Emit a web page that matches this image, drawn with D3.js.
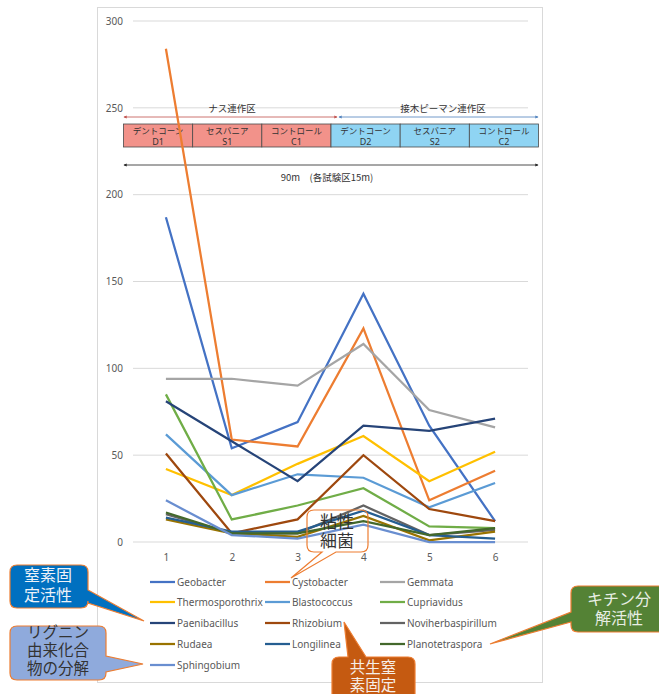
<!DOCTYPE html>
<html><head><meta charset="utf-8">
<script src="https://cdn.jsdelivr.net/npm/d3@7"></script>
<style>
body{margin:0;background:#fff;}
svg{display:block;}
</style></head>
<body>
<svg id="c" width="659" height="694"></svg>
<script>
const xCats = [1,2,3,4,5,6];
const yTicks = [0,50,100,150,200,250,300];
const seriesNames = ["Geobacter","Cystobacter","Gemmata","Thermosporothrix","Blastococcus","Cupriavidus","Paenibacillus","Rhizobium","Noviherbaspirillum","Rudaea","Longilinea","Planotetraspora","Sphingobium"];
const seriesColors = ["#4472C4","#ED7D31","#A5A5A5","#FFC000","#5B9BD5","#70AD47","#264478","#9E480E","#636363","#997300","#255E91","#43682B","#698ED0"];
const geobacter = [187,54,69,143,67,12];
const cystobacter = [284,59,55,123,24,41];
const gemmata = [94,94,90,114,76,66];
const thermosporothrix = [42,27,45,61,35,52];
const blastococcus = [62,27,39,37,20,34];
const cupriavidus = [85,13,21,31,9,8];
const paenibacillus = [81,58,35,67,64,71];
const rhizobium = [51,5,13,50,19,12];
const noviherbaspirillum = [16,5,5,21,4,7];
const rudaea = [13,5,3,15,1,6];
const longilinea = [14,6,6,18,4,2];
const planotetraspora = [17,5,5,12,4,8];
const sphingobium = [24,4,2,10,0,0];
const seriesValues = [geobacter,cystobacter,gemmata,thermosporothrix,blastococcus,cupriavidus,paenibacillus,rhizobium,noviherbaspirillum,rudaea,longilinea,planotetraspora,sphingobium];

const plotLabels = ["デントコーン","セスバニア","コントロール","デントコーン","セスバニア","コントロール"];
const plotCodes = ["D1","S1","C1","D2","S2","C2"];
const zoneLabels = ["ナス連作区","接木ピーマン連作区"];
const lengthLabel = "90m　(各試験区15m)";

const svg = d3.select("#c");
const JP = "'Noto Sans CJK JP','Noto Sans',sans-serif";
const LAT = "'Noto Sans','Liberation Sans',sans-serif";

// chart frame
svg.append("rect").attr("x",97.5).attr("y",7.5).attr("width",445).attr("height",675)
  .attr("fill","#fff").attr("stroke","#D9D9D9").attr("stroke-width",1);

const x = d3.scalePoint().domain(xCats).range([133,528]).padding(0.5);
const y = d3.scaleLinear().domain([0,300]).range([542,21]);

// grid
svg.append("g").selectAll("line").data(yTicks).join("line")
  .attr("x1",133).attr("x2",528).attr("y1",d=>y(d)).attr("y2",d=>y(d))
  .attr("stroke","#D9D9D9").attr("stroke-width",1);

// y axis
const ya = svg.append("g").attr("transform","translate(127,0)")
  .call(d3.axisLeft(y).tickValues(yTicks).tickSize(0).tickPadding(4));
ya.select(".domain").remove();
ya.selectAll("text").attr("fill","#595959").style("font-family",LAT).style("font-size","10px");

// x axis
const xa = svg.append("g").attr("transform","translate(0,552)")
  .call(d3.axisBottom(x).tickSize(0).tickPadding(2));
xa.select(".domain").remove();
xa.selectAll("text").attr("fill","#595959").style("font-family",LAT).style("font-size","10px");

// inset diagram
const bx = d3.scaleBand().domain(d3.range(6)).range([123.5,538.5]);
const ins = svg.append("g");
ins.selectAll("rect").data(plotLabels).join("rect")
  .attr("x",(d,i)=>bx(i)).attr("y",124).attr("width",bx.bandwidth()).attr("height",23)
  .attr("fill",(d,i)=>i<3?"#F2928A":"#8FD4F3").attr("stroke","#4a4a4a").attr("stroke-width",0.8);
ins.selectAll("text.l").data(plotLabels).join("text").attr("class","l")
  .attr("x",(d,i)=>bx(i)+bx.bandwidth()/2).attr("y",134).attr("text-anchor","middle")
  .style("font-family",JP).style("font-size","8.5px").attr("fill","#333").text(d=>d);
ins.selectAll("text.c").data(plotCodes).join("text").attr("class","c")
  .attr("x",(d,i)=>bx(i)+bx.bandwidth()/2).attr("y",145).attr("text-anchor","middle")
  .style("font-family",LAT).style("font-size","9px").attr("fill","#333").text(d=>d);

const defs = svg.append("defs");
function marker(id,col){
  defs.append("marker").attr("id",id).attr("viewBox","0 0 6 6").attr("refX",5).attr("refY",3)
   .attr("markerWidth",4).attr("markerHeight",4).attr("orient","auto-start-reverse")
   .append("path").attr("d","M0,0L6,3L0,6Z").attr("fill",col);
}
marker("mr","#C0504D"); marker("mb","#4F81BD"); marker("mk","#222");
ins.append("line").attr("x1",124).attr("x2",337).attr("y1",117).attr("y2",117)
  .attr("stroke","#C0504D").attr("stroke-width",0.8).attr("marker-start","url(#mr)").attr("marker-end","url(#mr)");
ins.append("line").attr("x1",339).attr("x2",538).attr("y1",117).attr("y2",117)
  .attr("stroke","#4F81BD").attr("stroke-width",0.8).attr("marker-start","url(#mb)").attr("marker-end","url(#mb)");
ins.append("line").attr("x1",124).attr("x2",538).attr("y1",165).attr("y2",165)
  .attr("stroke","#222").attr("stroke-width",0.8).attr("marker-start","url(#mk)").attr("marker-end","url(#mk)");
ins.append("text").attr("x",232).attr("y",112).attr("text-anchor","middle")
  .style("font-family",JP).style("font-size","9.5px").attr("fill","#333").text(zoneLabels[0]);
ins.append("text").attr("x",443).attr("y",112).attr("text-anchor","middle")
  .style("font-family",JP).style("font-size","9.5px").attr("fill","#333").text(zoneLabels[1]);
ins.append("text").attr("x",327).attr("y",181).attr("text-anchor","middle")
  .style("font-family",JP).style("font-size","9.5px").attr("fill","#333").text(lengthLabel);

// lines
const line = d3.line().x((d,i)=>x(xCats[i])).y(d=>y(d));
svg.append("g").selectAll("path").data(seriesValues).join("path")
  .attr("d",d=>line(d)).attr("fill","none")
  .attr("stroke",(d,i)=>seriesColors[i]).attr("stroke-width",2.25).attr("stroke-linejoin","miter");

// legend
const colX = [150,265,380];
const rowY = [582,602,623,644,665];
const lg = svg.append("g");
seriesNames.forEach((n,i)=>{
  const cx = colX[i%3], cy = rowY[Math.floor(i/3)];
  lg.append("line").attr("x1",cx).attr("x2",cx+25).attr("y1",cy).attr("y2",cy)
    .attr("stroke",seriesColors[i]).attr("stroke-width",2.25);
  lg.append("text").attr("x",cx+27).attr("y",cy+3.5).style("font-family",LAT).style("font-size","10px")
    .attr("fill","#595959").text(n);
});

// callouts
function callout(o){
  const {x0,y0,w,h,r,side,a,b,tx,ty} = o;
  const x1=x0+w, y1=y0+h;
  let p = `M${x0+r},${y0}`;
  if(side==="top") p += `L${a},${y0}L${tx},${ty}L${b},${y0}`;
  p += `L${x1-r},${y0}Q${x1},${y0} ${x1},${y0+r}`;
  if(side==="right") p += `L${x1},${a}L${tx},${ty}L${x1},${b}`;
  p += `L${x1},${y1-r}Q${x1},${y1} ${x1-r},${y1}`;
  if(side==="bottom") p += `L${b},${y1}L${tx},${ty}L${a},${y1}`;
  p += `L${x0+r},${y1}Q${x0},${y1} ${x0},${y1-r}`;
  if(side==="left") p += `L${x0},${b}L${tx},${ty}L${x0},${a}`;
  p += `L${x0},${y0+r}Q${x0},${y0} ${x0+r},${y0}Z`;
  const g = svg.append("g");
  g.append("path").attr("d",p).attr("fill",o.fill).attr("stroke",o.stroke||"#ED7D31").attr("stroke-width",1.2);
  o.lines.forEach((t,k)=>{
    g.append("text").attr("x",o.tcx).attr("y",o.ty0+k*o.lh).attr("text-anchor","middle")
     .style("font-family",JP).style("font-size",o.fs+"px").attr("fill",o.color).text(t);
  });
}
callout({x0:10,y0:565,w:78,h:43,r:7,side:"right",a:590,b:603,tx:144,ty:621,fill:"#0070C0",stroke:"#ED7D31",
  lines:["窒素固","定活性"],tcx:48,ty0:581,lh:20,fs:16,color:"#EEF2F8"});
callout({x0:10,y0:626,w:96,h:54,r:7,side:"right",a:656,b:672,tx:143,ty:664,fill:"#8FAADC",stroke:"#ED7D31",
  lines:["リグニン","由来化合","物の分解"],tcx:58,ty0:638,lh:18,fs:15.5,color:"#333"});
callout({x0:571,y0:586,w:100,h:46,r:7,side:"left",a:612,b:622,tx:490,ty:644,fill:"#548235",stroke:"#ED7D31",
  lines:["キチン分","解活性"],tcx:619,ty0:605,lh:19,fs:16,color:"#E8EEE4"});
callout({x0:332,y0:657,w:83,h:50,r:7,side:"top",a:348,b:366,tx:344,ty:622,fill:"#C55A11",stroke:"#ED7D31",
  lines:["共生窒","素固定"],tcx:373,ty0:673,lh:18,fs:15.5,color:"#F6EEE8"});
callout({x0:307,y0:510,w:61,h:42,r:7,side:"bottom",a:322,b:336,tx:291,ty:578,fill:"none",stroke:"#ED7D31",
  lines:["粘性","細菌"],tcx:337,ty0:528,lh:19,fs:17,color:"#333"});
</script>
</body></html>
